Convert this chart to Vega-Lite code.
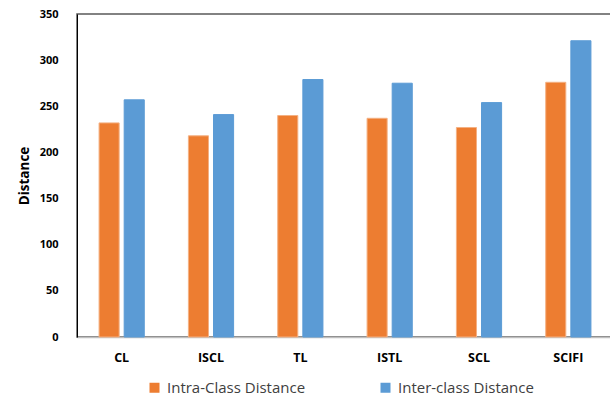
{
  "$schema": "https://vega.github.io/schema/vega-lite/v6.json",
  "autosize": "none",
  "padding": {"left": 77, "top": 14, "right": 0, "bottom": 59},
  "width": 536,
  "height": 323,
  "config": {
    "font": "Open Sans",
    "view": {"stroke": "#595959", "strokeWidth": 1.5}
  },
  "data": {
    "values": [
      {"method": "CL", "series": "Intra-Class Distance", "distance": 232},
      {"method": "CL", "series": "Inter-class Distance", "distance": 257},
      {"method": "ISCL", "series": "Intra-Class Distance", "distance": 218},
      {"method": "ISCL", "series": "Inter-class Distance", "distance": 241},
      {"method": "TL", "series": "Intra-Class Distance", "distance": 240},
      {"method": "TL", "series": "Inter-class Distance", "distance": 279},
      {"method": "ISTL", "series": "Intra-Class Distance", "distance": 237},
      {"method": "ISTL", "series": "Inter-class Distance", "distance": 275},
      {"method": "SCL", "series": "Intra-Class Distance", "distance": 227},
      {"method": "SCL", "series": "Inter-class Distance", "distance": 254},
      {"method": "SCIFI", "series": "Intra-Class Distance", "distance": 276},
      {"method": "SCIFI", "series": "Inter-class Distance", "distance": 321}
    ]
  },
  "mark": {"type": "bar", "strokeWidth": 1},
  "encoding": {
    "x": {
      "field": "method",
      "type": "nominal",
      "sort": ["CL", "ISCL", "TL", "ISTL", "SCL", "SCIFI"],
      "scale": {"paddingInner": 0.494, "paddingOuter": 0.247},
      "axis": {
        "title": null,
        "labelAngle": 0,
        "labelFontWeight": "bold",
        "labelFontSize": 12.5,
        "labelColor": "#000000",
        "labelPadding": 14,
        "ticks": false,
        "domainColor": "#bfbfbf",
        "domainWidth": 1.5
      }
    },
    "xOffset": {
      "field": "series",
      "type": "nominal",
      "sort": ["Intra-Class Distance", "Inter-class Distance"],
      "scale": {"paddingInner": 0.2, "paddingOuter": 0}
    },
    "y": {
      "field": "distance",
      "type": "quantitative",
      "scale": {"domain": [0, 350], "nice": false},
      "axis": {
        "title": "Distance",
        "titleFontWeight": "bold",
        "titleFontSize": 13.5,
        "titleColor": "#000000",
        "titlePadding": 8,
        "values": [0, 50, 100, 150, 200, 250, 300, 350],
        "grid": false,
        "ticks": false,
        "labelFontWeight": "bold",
        "labelFontSize": 11,
        "labelColor": "#000000",
        "labelPadding": 19,
        "domainColor": "#000000",
        "domainWidth": 1
      }
    },
    "color": {
      "field": "series",
      "type": "nominal",
      "sort": ["Intra-Class Distance", "Inter-class Distance"],
      "scale": {
        "domain": ["Intra-Class Distance", "Inter-class Distance"],
        "range": ["#ED7D31", "#5B9BD5"]
      },
      "legend": {
        "title": null,
        "orient": "none",
        "direction": "horizontal",
        "legendX": 70,
        "legendY": 366,
        "symbolType": "square",
        "symbolSize": 100,
        "symbolStrokeWidth": 0,
        "labelFontSize": 15,
        "labelColor": "#404040",
        "labelOffset": 5,
        "columnPadding": 72
      }
    },
    "stroke": {
      "field": "series",
      "type": "nominal",
      "scale": {
        "domain": ["Intra-Class Distance", "Inter-class Distance"],
        "range": ["#F4B183", "#5B9BD5"]
      },
      "legend": null
    }
  }
}
